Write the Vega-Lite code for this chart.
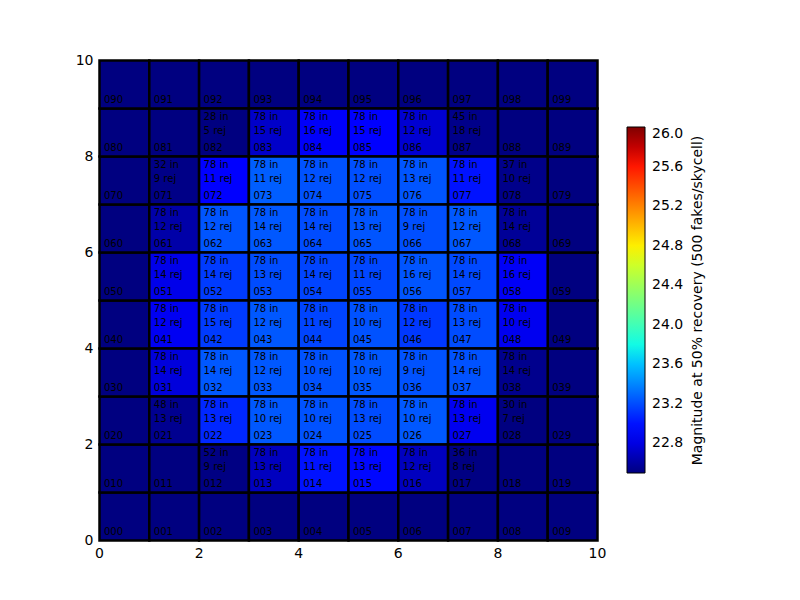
{
  "$schema": "https://vega.github.io/schema/vega-lite/v6.json",
  "width": 498,
  "height": 480,
  "autosize": {"type": "none"},
  "padding": {"left": 99, "top": 60, "right": 203, "bottom": 60},
  "background": "white",
  "config": {
    "font": "DejaVu Sans",
    "view": {"stroke": "black", "strokeWidth": 1},
    "axis": {"ticks": false, "domain": false, "grid": false, "labelFontSize": 14, "labelColor": "black", "labelPadding": 6, "title": null, "labelFont": "DejaVu Sans", "labelFlush": false}
  },
  "datasets": {
    "cells": [
      {"col":0,"row":0,"id":"000"},{"col":1,"row":0,"id":"001"},{"col":2,"row":0,"id":"002"},{"col":3,"row":0,"id":"003"},{"col":4,"row":0,"id":"004"},{"col":5,"row":0,"id":"005"},{"col":6,"row":0,"id":"006"},{"col":7,"row":0,"id":"007"},{"col":8,"row":0,"id":"008"},{"col":9,"row":0,"id":"009"},
      {"col":0,"row":1,"id":"010"},{"col":1,"row":1,"id":"011"},{"col":2,"row":1,"id":"012"},{"col":3,"row":1,"id":"013"},{"col":4,"row":1,"id":"014"},{"col":5,"row":1,"id":"015"},{"col":6,"row":1,"id":"016"},{"col":7,"row":1,"id":"017"},{"col":8,"row":1,"id":"018"},{"col":9,"row":1,"id":"019"},
      {"col":0,"row":2,"id":"020"},{"col":1,"row":2,"id":"021"},{"col":2,"row":2,"id":"022"},{"col":3,"row":2,"id":"023"},{"col":4,"row":2,"id":"024"},{"col":5,"row":2,"id":"025"},{"col":6,"row":2,"id":"026"},{"col":7,"row":2,"id":"027"},{"col":8,"row":2,"id":"028"},{"col":9,"row":2,"id":"029"},
      {"col":0,"row":3,"id":"030"},{"col":1,"row":3,"id":"031"},{"col":2,"row":3,"id":"032"},{"col":3,"row":3,"id":"033"},{"col":4,"row":3,"id":"034"},{"col":5,"row":3,"id":"035"},{"col":6,"row":3,"id":"036"},{"col":7,"row":3,"id":"037"},{"col":8,"row":3,"id":"038"},{"col":9,"row":3,"id":"039"},
      {"col":0,"row":4,"id":"040"},{"col":1,"row":4,"id":"041"},{"col":2,"row":4,"id":"042"},{"col":3,"row":4,"id":"043"},{"col":4,"row":4,"id":"044"},{"col":5,"row":4,"id":"045"},{"col":6,"row":4,"id":"046"},{"col":7,"row":4,"id":"047"},{"col":8,"row":4,"id":"048"},{"col":9,"row":4,"id":"049"},
      {"col":0,"row":5,"id":"050"},{"col":1,"row":5,"id":"051"},{"col":2,"row":5,"id":"052"},{"col":3,"row":5,"id":"053"},{"col":4,"row":5,"id":"054"},{"col":5,"row":5,"id":"055"},{"col":6,"row":5,"id":"056"},{"col":7,"row":5,"id":"057"},{"col":8,"row":5,"id":"058"},{"col":9,"row":5,"id":"059"},
      {"col":0,"row":6,"id":"060"},{"col":1,"row":6,"id":"061"},{"col":2,"row":6,"id":"062"},{"col":3,"row":6,"id":"063"},{"col":4,"row":6,"id":"064"},{"col":5,"row":6,"id":"065"},{"col":6,"row":6,"id":"066"},{"col":7,"row":6,"id":"067"},{"col":8,"row":6,"id":"068"},{"col":9,"row":6,"id":"069"},
      {"col":0,"row":7,"id":"070"},{"col":1,"row":7,"id":"071"},{"col":2,"row":7,"id":"072"},{"col":3,"row":7,"id":"073"},{"col":4,"row":7,"id":"074"},{"col":5,"row":7,"id":"075"},{"col":6,"row":7,"id":"076"},{"col":7,"row":7,"id":"077"},{"col":8,"row":7,"id":"078"},{"col":9,"row":7,"id":"079"},
      {"col":0,"row":8,"id":"080"},{"col":1,"row":8,"id":"081"},{"col":2,"row":8,"id":"082"},{"col":3,"row":8,"id":"083"},{"col":4,"row":8,"id":"084"},{"col":5,"row":8,"id":"085"},{"col":6,"row":8,"id":"086"},{"col":7,"row":8,"id":"087"},{"col":8,"row":8,"id":"088"},{"col":9,"row":8,"id":"089"},
      {"col":0,"row":9,"id":"090"},{"col":1,"row":9,"id":"091"},{"col":2,"row":9,"id":"092"},{"col":3,"row":9,"id":"093"},{"col":4,"row":9,"id":"094"},{"col":5,"row":9,"id":"095"},{"col":6,"row":9,"id":"096"},{"col":7,"row":9,"id":"097"},{"col":8,"row":9,"id":"098"},{"col":9,"row":9,"id":"099"}
    ],
    "stats": [
      {"col":2,"row":8,"nin":"28 in","nrej":"5 rej","mag":22.5},
      {"col":3,"row":8,"nin":"78 in","nrej":"15 rej","mag":22.72},
      {"col":4,"row":8,"nin":"78 in","nrej":"16 rej","mag":22.87},
      {"col":5,"row":8,"nin":"78 in","nrej":"15 rej","mag":22.91},
      {"col":6,"row":8,"nin":"78 in","nrej":"12 rej","mag":22.75},
      {"col":7,"row":8,"nin":"45 in","nrej":"18 rej","mag":22.53},
      {"col":1,"row":7,"nin":"32 in","nrej":"9 rej","mag":22.52},
      {"col":2,"row":7,"nin":"78 in","nrej":"11 rej","mag":22.93},
      {"col":3,"row":7,"nin":"78 in","nrej":"11 rej","mag":23.26},
      {"col":4,"row":7,"nin":"78 in","nrej":"12 rej","mag":23.22},
      {"col":5,"row":7,"nin":"78 in","nrej":"12 rej","mag":23.21},
      {"col":6,"row":7,"nin":"78 in","nrej":"13 rej","mag":23.23},
      {"col":7,"row":7,"nin":"78 in","nrej":"11 rej","mag":23.0},
      {"col":8,"row":7,"nin":"37 in","nrej":"10 rej","mag":22.53},
      {"col":1,"row":6,"nin":"78 in","nrej":"12 rej","mag":22.62},
      {"col":2,"row":6,"nin":"78 in","nrej":"12 rej","mag":23.23},
      {"col":3,"row":6,"nin":"78 in","nrej":"14 rej","mag":23.24},
      {"col":4,"row":6,"nin":"78 in","nrej":"14 rej","mag":23.2},
      {"col":5,"row":6,"nin":"78 in","nrej":"13 rej","mag":23.23},
      {"col":6,"row":6,"nin":"78 in","nrej":"9 rej","mag":23.21},
      {"col":7,"row":6,"nin":"78 in","nrej":"12 rej","mag":23.24},
      {"col":8,"row":6,"nin":"78 in","nrej":"14 rej","mag":22.57},
      {"col":1,"row":5,"nin":"78 in","nrej":"14 rej","mag":22.82},
      {"col":2,"row":5,"nin":"78 in","nrej":"14 rej","mag":23.14},
      {"col":3,"row":5,"nin":"78 in","nrej":"13 rej","mag":23.2},
      {"col":4,"row":5,"nin":"78 in","nrej":"14 rej","mag":23.17},
      {"col":5,"row":5,"nin":"78 in","nrej":"11 rej","mag":23.18},
      {"col":6,"row":5,"nin":"78 in","nrej":"16 rej","mag":23.23},
      {"col":7,"row":5,"nin":"78 in","nrej":"14 rej","mag":23.19},
      {"col":8,"row":5,"nin":"78 in","nrej":"16 rej","mag":22.86},
      {"col":1,"row":4,"nin":"78 in","nrej":"12 rej","mag":22.85},
      {"col":2,"row":4,"nin":"78 in","nrej":"15 rej","mag":23.14},
      {"col":3,"row":4,"nin":"78 in","nrej":"12 rej","mag":23.24},
      {"col":4,"row":4,"nin":"78 in","nrej":"11 rej","mag":23.17},
      {"col":5,"row":4,"nin":"78 in","nrej":"10 rej","mag":23.22},
      {"col":6,"row":4,"nin":"78 in","nrej":"12 rej","mag":23.13},
      {"col":7,"row":4,"nin":"78 in","nrej":"13 rej","mag":23.2},
      {"col":8,"row":4,"nin":"78 in","nrej":"10 rej","mag":22.84},
      {"col":1,"row":3,"nin":"78 in","nrej":"14 rej","mag":22.78},
      {"col":2,"row":3,"nin":"78 in","nrej":"14 rej","mag":23.24},
      {"col":3,"row":3,"nin":"78 in","nrej":"12 rej","mag":23.24},
      {"col":4,"row":3,"nin":"78 in","nrej":"10 rej","mag":23.22},
      {"col":5,"row":3,"nin":"78 in","nrej":"10 rej","mag":23.24},
      {"col":6,"row":3,"nin":"78 in","nrej":"9 rej","mag":23.22},
      {"col":7,"row":3,"nin":"78 in","nrej":"14 rej","mag":23.22},
      {"col":8,"row":3,"nin":"78 in","nrej":"14 rej","mag":22.54},
      {"col":1,"row":2,"nin":"48 in","nrej":"13 rej","mag":22.55},
      {"col":2,"row":2,"nin":"78 in","nrej":"13 rej","mag":23.07},
      {"col":3,"row":2,"nin":"78 in","nrej":"10 rej","mag":23.24},
      {"col":4,"row":2,"nin":"78 in","nrej":"10 rej","mag":23.22},
      {"col":5,"row":2,"nin":"78 in","nrej":"13 rej","mag":23.2},
      {"col":6,"row":2,"nin":"78 in","nrej":"10 rej","mag":23.24},
      {"col":7,"row":2,"nin":"78 in","nrej":"13 rej","mag":22.84},
      {"col":8,"row":2,"nin":"30 in","nrej":"7 rej","mag":22.5},
      {"col":2,"row":1,"nin":"52 in","nrej":"9 rej","mag":22.51},
      {"col":3,"row":1,"nin":"78 in","nrej":"13 rej","mag":22.69},
      {"col":4,"row":1,"nin":"78 in","nrej":"11 rej","mag":23.0},
      {"col":5,"row":1,"nin":"78 in","nrej":"13 rej","mag":22.96},
      {"col":6,"row":1,"nin":"78 in","nrej":"12 rej","mag":22.69},
      {"col":7,"row":1,"nin":"36 in","nrej":"8 rej","mag":22.51}
    ]
  },
  "resolve": {"scale": {"y": "independent"}},
  "layer": [
    {
      "layer": [
        {
          "data": {"name": "cells"},
          "mark": {"type": "rect", "fill": "#000080", "stroke": "black", "strokeWidth": 2.5},
          "encoding": {
            "x": {"field": "col", "type": "quantitative", "bin": {"binned": true, "step": 1}, "scale": {"domain": [0, 10], "nice": false, "zero": false}, "axis": {"values": [0, 2, 4, 6, 8, 10], "format": "d"}},
            "y": {"field": "row", "type": "quantitative", "bin": {"binned": true, "step": 1}, "scale": {"domain": [0, 10], "nice": false, "zero": false}, "axis": {"values": [0, 2, 4, 6, 8, 10], "format": "d", "orient": "left"}}
          }
        },
        {
          "data": {"name": "stats"},
          "mark": {"type": "rect", "stroke": "black", "strokeWidth": 2.5, "opacity": 1},
          "encoding": {
            "x": {"field": "col", "type": "quantitative", "bin": {"binned": true, "step": 1}, "axis": {"values": [0, 2, 4, 6, 8, 10], "format": "d"}},
            "y": {"field": "row", "type": "quantitative", "bin": {"binned": true, "step": 1}, "axis": {"values": [0, 2, 4, 6, 8, 10], "format": "d", "orient": "left"}},
            "color": {
              "field": "mag", "type": "quantitative",
              "scale": {
                "type": "linear",
                "domain": [22.5, 22.885, 22.9375, 23.69, 23.725, 23.8125, 24.74, 24.775, 24.81, 25.615, 25.685, 26.0],
                "range": ["#000080", "#0000ff", "#0000ff", "#00dbff", "#00e6f7", "#15ffe2", "#eeff08", "#f7f600", "#ffec00", "#ff1300", "#e80000", "#800000"],
                "interpolate": "rgb",
                "clamp": true
              },
              "legend": {
                "orient": "none", "legendX": 528, "legendY": 67,
                "direction": "vertical", "gradientLength": 346, "gradientThickness": 18,
                "values": [22.8, 23.2, 23.6, 24.0, 24.4, 24.8, 25.2, 25.6, 26.0], "format": ".1f",
                "labelFontSize": 14, "labelColor": "black", "labelOffset": 7, "labelFont": "DejaVu Sans", "labelOverlap": false,
                "title": null,
                "gradientStrokeColor": "black", "gradientStrokeWidth": 1
              }
            }
          }
        },
        {
          "data": {"name": "cells"},
          "mark": {"type": "text", "align": "left", "baseline": "alphabetic", "dx": 5, "dy": -5, "fontSize": 10, "color": "black"},
          "encoding": {
            "x": {"field": "col", "type": "quantitative"},
            "y": {"field": "row", "type": "quantitative"},
            "text": {"field": "id", "type": "nominal"}
          }
        },
        {
          "data": {"name": "stats"},
          "mark": {"type": "text", "align": "left", "baseline": "alphabetic", "dx": 5, "dy": -36, "fontSize": 10, "color": "black"},
          "encoding": {
            "x": {"field": "col", "type": "quantitative"},
            "y": {"field": "row", "type": "quantitative"},
            "text": {"field": "nin", "type": "nominal"}
          }
        }
      ]
    },
    {
      "data": {"name": "stats"},
      "mark": {"type": "text", "align": "left", "baseline": "alphabetic", "dx": 5, "dy": -22, "fontSize": 10, "color": "black"},
      "encoding": {
        "x": {"field": "col", "type": "quantitative"},
        "y": {
          "field": "row", "type": "quantitative",
          "scale": {"domain": [0, 10], "nice": false, "zero": false},
          "axis": {"orient": "right", "labels": false, "ticks": false, "domain": false, "title": "Magnitude at 50% recovery (500 fakes/skycell)", "titleAngle": 270, "titleBaseline": "middle", "titleAlign": "center", "titlePadding": 100, "titleFontSize": 14, "titleFontWeight": "normal", "titleColor": "black", "titleFont": "DejaVu Sans", "titleLimit": 600}
        },
        "text": {"field": "nrej", "type": "nominal"}
      }
    }
  ]
}
